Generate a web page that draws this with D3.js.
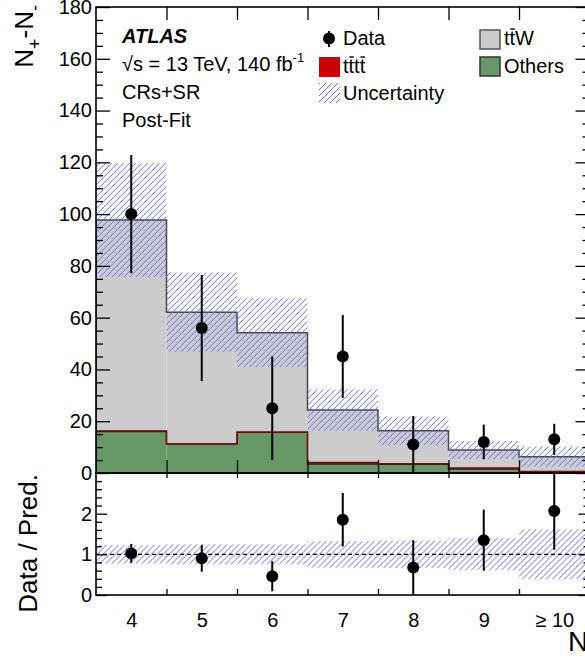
<!DOCTYPE html>
<html>
<head>
<meta charset="utf-8">
<script src="https://cdn.jsdelivr.net/npm/d3@7"></script>
<style>
  body { margin: 0; background: #fff; }
  svg { display: block; font-family: "Liberation Sans", Arial, Helvetica, sans-serif; }
</style>
</head>
<body>
<svg id="chart" width="585" height="663"></svg>
<script>
// jet multiplicity bins
var categories = ["4", "5", "6", "7", "8", "9", "\u2265 10"];

// post-fit predictions of N+ - N- per bin
var others = [16, 11.2, 15.7, 3.5, 3.4, 1.5, 0.3];
var tttt = [0.3, 0.1, 0.1, 0.6, 0.2, 0.5, 0.3];
var ttW = [81.4, 50.8, 38.4, 20.2, 12.7, 6.9, 5.7];
var uncertainty = [22, 15.3, 13.3, 8, 5.5, 3.5, 3.9];

// observed N+ - N-
var observed = [100, 56, 25, 45, 11, 12, 13];
var observedErr = [22.8, 20.5, 20, 16, 11, 6.7, 6];

// axis ticks
var mainTicks = [0, 20, 40, 60, 80, 100, 120, 140, 160, 180];
var ratioTicks = [0, 1, 2];

var colors = { others: "#669966", tttt: "#cc0000", ttW: "#cccccc", hatch: "#6a6aff" };
var strokes = { others: "#222", tttt: "#8b0000", ttW: "#444" };

var svg = d3.select("#chart");

// panel geometry (right edge falls just outside the picture)
var padLeft = 96, padRight = 589.5, padTop = 7, padSplit = 473, padBottom = 595;

var x = d3.scaleLinear().domain([0, categories.length]).range([padLeft, padRight]);
var y = d3.scaleLinear().domain([0, 180]).range([padSplit, padTop]);
var yr = d3.scaleLinear().domain([0, 3]).range([padBottom, padSplit]);

var defs = svg.append("defs");
defs.append("clipPath").attr("id", "clipMain")
    .append("rect").attr("x", padLeft).attr("y", padTop)
    .attr("width", padRight - padLeft).attr("height", padSplit - padTop);
defs.append("clipPath").attr("id", "clipRatio")
    .append("rect").attr("x", padLeft).attr("y", padSplit)
    .attr("width", padRight - padLeft).attr("height", padBottom - padSplit);

svg.append("rect").attr("width", 585).attr("height", 663).attr("fill", "#fff");

// hatch: diagonal lines clipped to a set of rectangles
function hatch(parent, id, boxes, spacing) {
    var cp = defs.append("clipPath").attr("id", id);
    boxes.forEach(function (b) {
        cp.append("rect").attr("x", b.x).attr("y", b.y).attr("width", b.w).attr("height", b.h);
    });
    var x0 = d3.min(boxes, function (b) { return b.x; });
    var x1 = d3.max(boxes, function (b) { return b.x + b.w; });
    var y0 = d3.min(boxes, function (b) { return b.y; });
    var y1 = d3.max(boxes, function (b) { return b.y + b.h; });
    var h = y1 - y0;
    var g = parent.append("g").attr("clip-path", "url(#" + id + ")");
    g.selectAll("line")
        .data(d3.range(Math.floor((x0 - h) / spacing) * spacing, x1 + spacing, spacing))
        .enter()
        .append("line")
        .attr("x1", function (d) { return d; })
        .attr("y1", y1)
        .attr("x2", function (d) { return d + h; })
        .attr("y2", y0)
        .attr("stroke", colors.hatch)
        .attr("stroke-width", 1);
}

// stacked prediction
var rows = categories.map(function (c, i) {
    return { others: others[i], tttt: tttt[i], ttW: ttW[i] };
});
var keys = ["others", "tttt", "ttW"];
var stacked = d3.stack().keys(keys)(rows);
var total = rows.map(function (r) { return r.others + r.tttt + r.ttW; });

var main = svg.append("g").attr("clip-path", "url(#clipMain)");

stacked.forEach(function (layer) {
    main.append("g")
        .selectAll("rect")
        .data(layer)
        .enter()
        .append("rect")
        .attr("x", function (d, i) { return x(i); })
        .attr("width", function (d, i) { return x(i + 1) - x(i); })
        .attr("y", function (d) { return y(d[1]); })
        .attr("height", function (d) { return y(d[0]) - y(d[1]); })
        .attr("fill", colors[layer.key]);
});

// step outlines of each layer top
function stepPath(vals, sc) {
    var p = d3.path();
    p.moveTo(x(0), sc(0));
    vals.forEach(function (v, i) {
        p.lineTo(x(i), sc(v));
        p.lineTo(x(i + 1), sc(v));
    });
    p.lineTo(x(vals.length), sc(0));
    return p.toString();
}
stacked.forEach(function (layer) {
    main.append("path")
        .attr("d", stepPath(layer.map(function (d) { return d[1]; }), y))
        .attr("fill", "none")
        .attr("stroke", strokes[layer.key])
        .attr("stroke-width", layer.key === "tttt" ? 1.2 : 1.5);
});

// uncertainty band
hatch(main, "bandMain", total.map(function (d, i) {
    return {
        x: x(i), w: x(i + 1) - x(i),
        y: y(d + uncertainty[i]), h: y(d - uncertainty[i]) - y(d + uncertainty[i])
    };
}), 6);

// data points
var pts = main.append("g")
    .selectAll("g")
    .data(observed)
    .enter()
    .append("g");
pts.append("line")
    .attr("x1", function (d, i) { return x(i + 0.5); })
    .attr("x2", function (d, i) { return x(i + 0.5); })
    .attr("y1", function (d, i) { return y(d + observedErr[i]); })
    .attr("y2", function (d, i) { return y(Math.max(0, d - observedErr[i])); })
    .attr("stroke", "#000")
    .attr("stroke-width", 2);
pts.append("circle")
    .attr("cx", function (d, i) { return x(i + 0.5); })
    .attr("cy", function (d) { return y(d); })
    .attr("r", 6)
    .attr("fill", "#000");

// ratio panel
var ratio = svg.append("g").attr("clip-path", "url(#clipRatio)");
hatch(ratio, "bandRatio", total.map(function (d, i) {
    var rel = uncertainty[i] / d;
    return { x: x(i), w: x(i + 1) - x(i), y: yr(1 + rel), h: yr(1 - rel) - yr(1 + rel) };
}), 6);

ratio.append("line")
    .attr("x1", padLeft).attr("x2", padRight)
    .attr("y1", yr(1)).attr("y2", yr(1))
    .attr("stroke", "#000")
    .attr("stroke-width", 1.2)
    .attr("stroke-dasharray", "4,3");

var rpts = ratio.append("g")
    .selectAll("g")
    .data(observed)
    .enter()
    .append("g");
rpts.append("line")
    .attr("x1", function (d, i) { return x(i + 0.5); })
    .attr("x2", function (d, i) { return x(i + 0.5); })
    .attr("y1", function (d, i) { return yr((d + observedErr[i]) / total[i]); })
    .attr("y2", function (d, i) { return yr((d - observedErr[i]) / total[i]); })
    .attr("stroke", "#000")
    .attr("stroke-width", 2);
rpts.append("circle")
    .attr("cx", function (d, i) { return x(i + 0.5); })
    .attr("cy", function (d, i) { return yr(d / total[i]); })
    .attr("r", 6)
    .attr("fill", "#000");

// axes
function styleAxis(g) {
    g.select(".domain").remove();
    g.attr("font-size", 20).attr("font-family", null);
    g.selectAll("line").attr("stroke", "#000").attr("stroke-width", 1.3);
    g.selectAll("text").attr("fill", "#000");
}
function addAxis(axis, tx, ty) {
    svg.append("g").attr("transform", "translate(" + tx + "," + ty + ")").call(axis).call(styleAxis);
}

var mainMinor = d3.range(0, 181, 5).filter(function (v) { return v % 20 !== 0; });
var ratioMinor = d3.range(0, 3.01, 0.2).filter(function (v) { return Math.abs(v - Math.round(v)) > 0.01; });
var edges = d3.range(1, categories.length);

addAxis(d3.axisLeft(y).tickValues(mainTicks).tickSize(-14).tickPadding(4).tickFormat(d3.format("d")), padLeft, 0);
addAxis(d3.axisLeft(y).tickValues(mainMinor).tickSize(-7).tickFormat(""), padLeft, 0);
addAxis(d3.axisRight(y).tickValues(mainTicks).tickSize(-14).tickFormat(""), padRight, 0);
addAxis(d3.axisRight(y).tickValues(mainMinor).tickSize(-7).tickFormat(""), padRight, 0);
addAxis(d3.axisTop(x).tickValues(edges).tickSize(-13).tickFormat(""), 0, padTop);
addAxis(d3.axisBottom(x).tickValues(edges).tickSize(-13).tickFormat(""), 0, padSplit);

addAxis(d3.axisLeft(yr).tickValues(ratioTicks).tickSize(-11).tickPadding(4).tickFormat(d3.format("d")), padLeft, 0);
addAxis(d3.axisLeft(yr).tickValues(ratioMinor).tickSize(-6).tickFormat(""), padLeft, 0);
addAxis(d3.axisRight(yr).tickValues(ratioTicks).tickSize(-11).tickFormat(""), padRight, 0);
addAxis(d3.axisRight(yr).tickValues(ratioMinor).tickSize(-6).tickFormat(""), padRight, 0);
addAxis(d3.axisTop(x).tickValues(edges).tickSize(-5).tickFormat(""), 0, padSplit);
addAxis(d3.axisBottom(x).tickValues(edges).tickSize(-6).tickFormat(""), 0, padBottom);

// bin labels at bin centres
addAxis(d3.axisBottom(x)
    .tickValues(categories.map(function (c, i) { return i + 0.5; }))
    .tickSize(0).tickPadding(18)
    .tickFormat(function (d) { return categories[Math.floor(d)]; }), 0, padBottom);

// frames
svg.append("rect").attr("x", padLeft).attr("y", padTop)
    .attr("width", padRight - padLeft).attr("height", padSplit - padTop)
    .attr("fill", "none").attr("stroke", "#000").attr("stroke-width", 1.6);
svg.append("rect").attr("x", padLeft).attr("y", padSplit)
    .attr("width", padRight - padLeft).attr("height", padBottom - padSplit)
    .attr("fill", "none").attr("stroke", "#000").attr("stroke-width", 1.6);

// axis titles
var yt = svg.append("text")
    .attr("transform", "translate(33,5) rotate(-90)")
    .attr("text-anchor", "end")
    .attr("font-size", 26);
yt.append("tspan").text("N");
yt.append("tspan").attr("font-size", 18).attr("dy", 8).text("+");
yt.append("tspan").attr("dy", -8).text("-N");
yt.append("tspan").attr("font-size", 18).attr("dy", 8).text("-");

svg.append("text")
    .attr("transform", "translate(37,474) rotate(-90)")
    .attr("text-anchor", "end")
    .attr("font-size", 26)
    .text("Data / Pred.");

var xt = svg.append("text")
    .attr("x", 568).attr("y", 651)
    .attr("font-size", 28);
xt.append("tspan").text("N");
xt.append("tspan").attr("font-size", 19).attr("dy", 7).text("jets");

// ATLAS label block
svg.append("text").attr("x", 122).attr("y", 43)
    .attr("font-size", 20).attr("font-weight", "bold").attr("font-style", "italic")
    .text("ATLAS");
var lumi = svg.append("text").attr("x", 122).attr("y", 71).attr("font-size", 20);
lumi.append("tspan").text("\u221As = 13 TeV, 140 fb");
lumi.append("tspan").attr("font-size", 13).attr("dy", -9).text("-1");
svg.append("text").attr("x", 122).attr("y", 99).attr("font-size", 20).text("CRs+SR");
svg.append("text").attr("x", 122).attr("y", 127).attr("font-size", 20).text("Post-Fit");

// draw bars over selected characters (anti-quarks)
function overbars(textSel, idx) {
    var node = textSel.node();
    idx.forEach(function (i) {
        var b = node.getExtentOfChar(i);
        svg.append("line")
            .attr("x1", b.x + 0.8).attr("x2", b.x + b.width - 0.3)
            .attr("y1", b.y + 2).attr("y2", b.y + 2)
            .attr("stroke", "#000").attr("stroke-width", 1.4);
    });
}

// legend
var legend = svg.append("g");
legend.append("line").attr("x1", 329).attr("x2", 329).attr("y1", 31).attr("y2", 47)
    .attr("stroke", "#000").attr("stroke-width", 2);
legend.append("circle").attr("cx", 329).attr("cy", 38.5).attr("r", 6).attr("fill", "#000");
legend.append("text").attr("x", 343).attr("y", 45).attr("font-size", 20).text("Data");

legend.append("rect").attr("x", 319).attr("y", 57).attr("width", 21).attr("height", 20)
    .attr("fill", colors.tttt);
var t4 = legend.append("text").attr("x", 343).attr("y", 73).attr("font-size", 20).text("tttt");
overbars(t4, [1, 3]);

hatch(legend, "bandLegend", [{ x: 319, y: 83, w: 21, h: 20 }], 6);
legend.append("text").attr("x", 343).attr("y", 100).attr("font-size", 20).text("Uncertainty");

legend.append("rect").attr("x", 480).attr("y", 30).attr("width", 20).attr("height", 19)
    .attr("fill", colors.ttW).attr("stroke", "#555").attr("stroke-width", 1.5);
var tw = legend.append("text").attr("x", 504).attr("y", 45).attr("font-size", 20).text("ttW");
overbars(tw, [1]);

legend.append("rect").attr("x", 480).attr("y", 57).attr("width", 20).attr("height", 19)
    .attr("fill", colors.others).attr("stroke", "#333").attr("stroke-width", 1.5);
legend.append("text").attr("x", 504).attr("y", 73).attr("font-size", 20).text("Others");
</script>
</body>
</html>
